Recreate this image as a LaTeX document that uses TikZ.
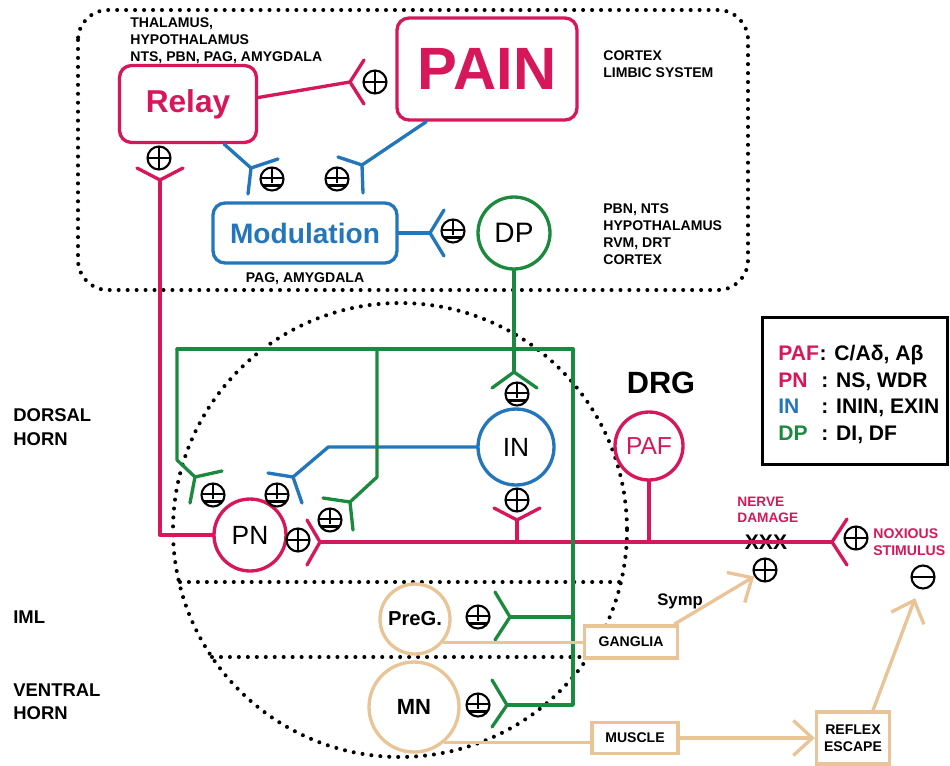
\documentclass[tikz,border=0pt]{standalone}
\usepackage{fontspec}
\setmainfont{Liberation Sans}
\usetikzlibrary{positioning}
\usetikzlibrary{calc}
\usetikzlibrary{arrows.meta}

\definecolor{painred}{RGB}{214,24,90}
\definecolor{modblue}{RGB}{36,118,186}
\definecolor{dpgreen}{RGB}{28,138,62}
\definecolor{symtan}{RGB}{232,196,150}

\begin{document}
\begin{tikzpicture}[x=0.02cm,y=-0.02cm,
      axon/.style={line width=1.9pt,line join=round,line cap=round},
      redax/.style={axon,painred},
      blueax/.style={axon,modblue},
      greenax/.style={axon,dpgreen},
      tanax/.style={line width=1.9pt,symtan},
      tanarrow/.style={tanax,-{Straight Barb[length=0.38cm,width=0.7cm,line width=1.9pt]}},
      region/.style={black,line width=2.3pt,line cap=round,dash pattern=on 0pt off 5.1pt},
      centrebox/.style={draw,rectangle,rounded corners=0.24cm,line width=1.9pt},
      cell/.style={draw,circle,line width=1.9pt,inner sep=0pt},
      outbox/.style={draw=symtan,fill=white,line width=1.9pt,align=center,font=\bfseries\fontsize{8}{9.5}\selectfont},
      sign/.style={draw,circle,line width=1.2pt,minimum size=0.46cm,inner sep=0pt},
      plussign/.style={sign,path picture={
          \draw[line width=1.2pt] (path picture bounding box.north) -- (path picture bounding box.south)
                                  (path picture bounding box.west) -- (path picture bounding box.east);}},
      minussign/.style={sign,path picture={
          \draw[line width=1.2pt] (path picture bounding box.west) -- (path picture bounding box.east);}},
      pmsign/.style={sign,path picture={
          \draw[line width=1.2pt] (path picture bounding box.north) -- ([yshift=-0.08cm]path picture bounding box.center)
                                  ([yshift=0.02cm]path picture bounding box.west) -- ([yshift=0.02cm]path picture bounding box.east)
                                  ([xshift=-0.2cm,yshift=-0.13cm]path picture bounding box.center) -- ++(0.4cm,0);}},
      areatext/.style={anchor=north west,inner sep=0pt,align=left,font=\bfseries\fontsize{8}{9.7}\selectfont},
      sidetext/.style={anchor=north west,inner sep=0pt,align=left,font=\bfseries\fontsize{10.5}{13.6}\selectfont},
      legtext/.style={anchor=base west,inner sep=0pt,font=\bfseries\fontsize{12}{14}\selectfont}]
      \useasboundingbox (0,0) rectangle (950,765);

      % Regions
      \draw[region,rounded corners=0.6cm] (78,10) rectangle (748,290);
      \draw[region] (400,530) circle (227);
      \draw[region] (180,582) -- (621,582);
      \draw[region] (212,657) -- (588,657);

      % Blocks
      \node[centrebox,draw=painred,text=painred,minimum width=2.74cm,minimum height=1.54cm,
            font=\bfseries\fontsize{18}{20}\selectfont]                      (relay)   at (188,104) {Relay};
      \node[centrebox,draw=painred,text=painred,minimum width=3.6cm,minimum height=2.04cm,
            font=\bfseries\fontsize{34}{36}\selectfont]                      (pain)    at (487,69)  {PAIN};
      \node[centrebox,draw=modblue,text=modblue,minimum width=3.68cm,minimum height=1.2cm,
            font=\bfseries\fontsize{16}{18}\selectfont]                      (modul)   at (305,233) {Modulation};

      % Cells
      \node[cell,draw=dpgreen,minimum size=1.44cm,font=\fontsize{16}{18}\selectfont]            (dp)    at (514,233) {DP};
      \node[cell,draw=painred,minimum size=1.44cm,font=\fontsize{15}{17}\selectfont]            (pn)    at (250,535) {PN};
      \node[cell,draw=modblue,minimum size=1.52cm,font=\fontsize{15}{17}\selectfont]            (intn)  at (516,447) {IN};
      \node[cell,draw=painred,text=painred,minimum size=1.36cm,font=\fontsize{14}{16}\selectfont](paf)  at (649,446) {PAF};
      \node[cell,draw=symtan,minimum size=1.4cm,font=\bfseries\fontsize{11.5}{13}\selectfont]   (preg)  at (415,619) {PreG.};
      \node[cell,draw=symtan,minimum size=1.8cm,font=\bfseries\fontsize{12.5}{14}\selectfont]   (mn)    at (414,707) {MN};

      % Effector boxes
      \node[outbox,minimum width=1.86cm,minimum height=0.64cm] (ganglia) at (631,642) {GANGLIA};
      \node[outbox,minimum width=1.72cm,minimum height=0.62cm] (muscle)  at (635,738) {MUSCLE};
      \node[outbox,minimum width=1.46cm,minimum height=1.04cm] (reflex)  at (853,738) {REFLEX\\ESCAPE};

      % Signs
      \node[plussign]  (pRelayPain) at (375,82)  {};
      \node[plussign]  (pPnRelay)   at (159,158) {};
      \node[pmsign]    (pRelayMod)  at (272,179) {};
      \node[pmsign]    (pPainMod)   at (337,179) {};
      \node[pmsign]    (pModDp)     at (453,231) {};
      \node[pmsign]    (pDpIn)      at (517,394) {};
      \node[pmsign]    (pDpPnL)     at (213,495) {};
      \node[pmsign]    (pInPn)      at (277,495) {};
      \node[pmsign]    (pDpPnR)     at (330,520) {};
      \node[plussign]  (pPafPn)     at (298,540) {};
      \node[plussign]  (pPafIn)     at (517,500) {};
      \node[plussign]  (pNoxious)   at (856,538) {};
      \node[plussign]  (pDamage)    at (765,570) {};
      \node[minussign] (mStimulus)  at (923,577) {};
      \node[pmsign]    (pDpPreg)    at (478,617) {};
      \node[pmsign]    (pDpMn)      at (478,705) {};

      % Labels
      \node[areatext] (relayText)  at (130,17)  {THALAMUS,\\HYPOTHALAMUS\\NTS, PBN, PAG, AMYGDALA};
      \node[areatext] (painText)   at (603,50)  {CORTEX\\LIMBIC SYSTEM};
      \node[areatext] (dpText)     at (603,203) {PBN, NTS\\HYPOTHALAMUS\\RVM, DRT\\CORTEX};
      \node[areatext,anchor=north] (modText) at (305,272) {PAG, AMYGDALA};
      \node[sidetext] (dorsal)     at (13,408)  {DORSAL\\HORN};
      \node[sidetext] (iml)        at (13,610)  {IML};
      \node[sidetext] (ventral)    at (13,683)  {VENTRAL\\HORN};
      \node[anchor=north,inner sep=0pt,font=\bfseries\fontsize{17.5}{19}\selectfont] (drg) at (661,372) {DRG};
      \node[areatext,text=painred,font=\bfseries\fontsize{7.8}{9.2}\selectfont] (damage)   at (737,497) {NERVE\\DAMAGE};
      \node[areatext,text=painred,font=\bfseries\fontsize{8}{9.6}\selectfont]   (stimulus) at (873,528) {NOXIOUS\\STIMULUS};
      \node[inner sep=0pt,font=\bfseries\fontsize{12}{14}\selectfont] (xxx) at (766,542) {XXX};
      \node[anchor=north west,inner sep=0pt,font=\bfseries\fontsize{9.5}{11}\selectfont] (symp) at (657,593) {Symp};

      % Legend
      \node[draw,line width=1.2pt,minimum width=3.7cm,minimum height=2.94cm] (legend) at (855,391) {};
      \node[legtext,text=painred] (kPAF) at (778,360) {PAF};
      \node[legtext]              (vPAF) at (kPAF.base east) {: C/Aδ, Aβ};
      \node[legtext,text=painred] (kPN)  at (778,387) {PN};
      \node[legtext]              (vPN)  at (821,387) {: NS, WDR};
      \node[legtext,text=modblue] (kIN)  at (778,413) {IN};
      \node[legtext]              (vIN)  at (821,413) {: ININ, EXIN};
      \node[legtext,text=dpgreen] (kDP)  at (778,440) {DP};
      \node[legtext]              (vDP)  at (821,440) {: DI, DF};

      % Synapse points
      \coordinate (sRelayPain) at (350,82);
      \coordinate (sPnRelay)   at (160,180);
      \coordinate (sRelayMod)  at (251,168);
      \coordinate (sPainMod)   at (362,165);
      \coordinate (sModDp)     at (430,233);
      \coordinate (sDpIn)      at (514,372);
      \coordinate (sDpPnL)     at (195,477);
      \coordinate (sInPn)      at (293,477);
      \coordinate (sDpPnR)     at (350,502);
      \coordinate (sPafPn)     at (320,542);
      \coordinate (sPafIn)     at (517,520);
      \coordinate (sNoxious)   at (832,542);
      \coordinate (sDpPreg)    at (510,617);
      \coordinate (sDpMn)      at (507,705);
      \coordinate (gLeft)      at (177,349);
      \coordinate (gMid)       at (377,349);
      \coordinate (gRight)     at (573,349);
      \coordinate (gBottom)    at (573,705);

      % Red axons
      \draw[redax] ([yshift=0.13cm]relay.east) -- (sRelayPain);
      \draw[redax] (sRelayPain) ++(14,-22) -- (sRelayPain) -- ++(14,22);
      \draw[redax] (pn.west) -| (sPnRelay);
      \draw[redax] (sPnRelay) ++(-23,-12) -- (sPnRelay) -- ++(23,-12);
      \draw[redax] (sPafPn) -- (sNoxious);
      \draw[redax] (sPafPn) ++(-13,-22) -- (sPafPn) -- ++(-13,23);
      \draw[redax] (sNoxious) ++(15,-23) -- (sNoxious) -- ++(15,23);
      \draw[redax] (paf.south) -- (paf.south |- sPafPn);
      \draw[redax] (sPafIn) -- (sPafIn |- sPafPn);
      \draw[redax] (sPafIn) ++(-23,-12) -- (sPafIn) -- ++(23,-12);

      % Blue axons
      \draw[blueax] ($(relay.south east)+(-34,0)$) -- (sRelayMod);
      \draw[blueax] (sRelayMod) ++(-3,26) -- (sRelayMod) -- ++(27,-9);
      \draw[blueax] ($(pain.south west)+(31,0)$) -- (sPainMod);
      \draw[blueax] (sPainMod) ++(-24,-8) -- (sPainMod) -- ++(1,28);
      \draw[blueax] (modul.east) -- (sModDp);
      \draw[blueax] (sModDp) ++(14,-23) -- (sModDp) -- ++(14,23);
      \draw[blueax] (intn.west) -- ++(-148,0) -- (sInPn);
      \draw[blueax] (sInPn) ++(-25,-4) -- (sInPn) -- ++(9,26);

      % Green axons
      \draw[greenax] (dp.south) -- (sDpIn);
      \draw[greenax] (sDpIn) ++(-22,16) -- (sDpIn) -- ++(23,16);
      \draw[greenax] (gLeft) -- (gRight) -- (gBottom) -- (sDpMn);
      \draw[greenax] (gRight |- sDpPreg) -- (sDpPreg);
      \draw[greenax] (gLeft) -- ++(0,111) -- (sDpPnL);
      \draw[greenax] (sDpPnL) ++(27,-6) -- (sDpPnL) -- ++(-5,26);
      \draw[greenax] (gMid) -- ++(0,128) -- (sDpPnR);
      \draw[greenax] (sDpPnR) ++(-27,-4) -- (sDpPnR) -- ++(3,28);
      \draw[greenax] (sDpPreg) ++(-15,-25) -- (sDpPreg) -- ++(-15,23);
      \draw[greenax] (sDpMn) ++(-15,-25) -- (sDpMn) -- ++(-15,22);

      % Outputs
      \draw[tanax] (preg.-40) -- (preg.-40 -| ganglia.west);
      \draw[tanax] (mn.-50) -- (mn.-50 -| muscle.west);
      \draw[tanarrow] ($(ganglia.north east)+(-5,0)$) -- (pDamage);
      \draw[tanarrow] (muscle.east) -- (reflex.west);
      \draw[tanarrow,shorten >=0.2cm] ($(reflex.north)+(20,0)$) -- (mStimulus);

    \end{tikzpicture}
\end{document}
